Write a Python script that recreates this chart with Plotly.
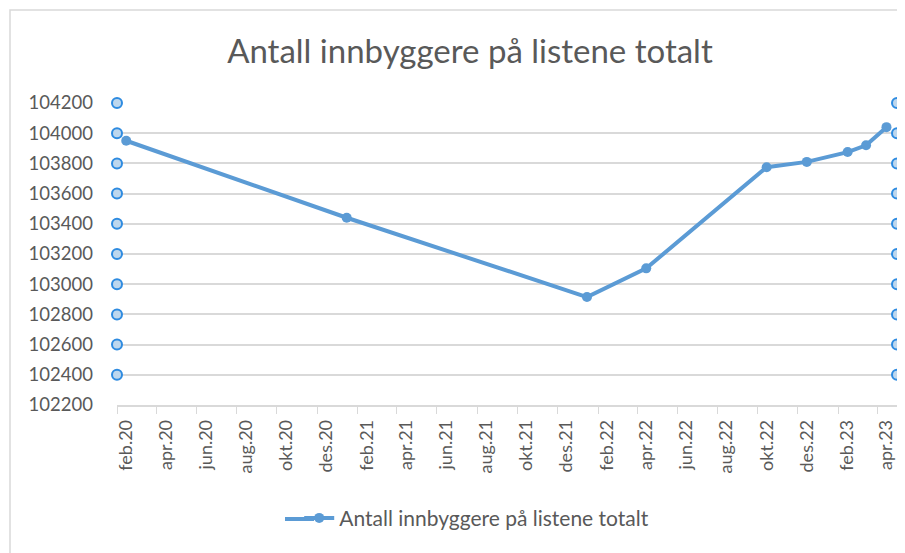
import plotly.graph_objects as go
import pandas as pd

# Data
months = ["2020-02", "2021-01", "2022-01", "2022-04", "2022-10",
          "2022-12", "2023-02", "2023-03", "2023-04"]
innbyggere = [103950, 103440, 102915, 103105, 103775,
              103810, 103875, 103920, 104040]

tick_months = ["2020-02", "2020-04", "2020-06", "2020-08", "2020-10", "2020-12",
               "2021-02", "2021-04", "2021-06", "2021-08", "2021-10", "2021-12",
               "2022-02", "2022-04", "2022-06", "2022-08", "2022-10", "2022-12",
               "2023-02", "2023-04"]
tick_labels = ["feb.20", "apr.20", "jun.20", "aug.20", "okt.20", "des.20",
               "feb.21", "apr.21", "jun.21", "aug.21", "okt.21", "des.21",
               "feb.22", "apr.22", "jun.22", "aug.22", "okt.22", "des.22",
               "feb.23", "apr.23"]

# Gridline selection handles visible in the picture
handle_values = [102400, 102600, 102800, 103000, 103200, 103400,
                 103600, 103800, 104000, 104200]

title_text = "Antall innbyggere på listene totalt"
series_name = "Antall innbyggere på listene totalt"

x_start = "2020-02-01"
x_end = "2023-05-01"

def mid(m):
    return (pd.Timestamp(m + "-01") + pd.Timedelta(days=14)).strftime("%Y-%m-%d")

x_data = [mid(m) for m in months]
tick_vals = [mid(m) for m in tick_months]

FONT = "Lato"
GREY = "#595959"
BLUE = "#5B9BD5"

fig = go.Figure()

fig.add_trace(go.Scatter(
    x=x_data, y=innbyggere, mode="lines+markers", name=series_name,
    line=dict(color=BLUE, width=4),
    marker=dict(color=BLUE, size=10),
    cliponaxis=False,
))

for xe in (x_start, x_end):
    fig.add_trace(go.Scatter(
        x=[xe] * len(handle_values), y=handle_values, mode="markers",
        showlegend=False, hoverinfo="skip", cliponaxis=False,
        marker=dict(size=10, color="#BDD7EE", line=dict(color="#2E8BE0", width=2)),
    ))

PL, PW, PT, PH = 109, 780, 95, 302  # plot area in figure pixels

def px_x(p):
    return (p - PL) / PW

def px_y(p):
    return (PT + PH - p) / PH

fig.update_layout(
    width=897, height=545,
    margin=dict(l=PL, r=8, t=PT, b=148),
    paper_bgcolor="white", plot_bgcolor="white",
    font=dict(family=FONT, color=GREY, size=18),
    title=dict(text=title_text, x=0.515, xanchor="center", y=0.921, yanchor="middle",
               font=dict(family=FONT, size=33, color=GREY)),
    showlegend=True,
    legend=dict(orientation="h", x=0.2336, xanchor="left",
                y=-0.375, yanchor="middle", bgcolor="rgba(0,0,0,0)",
                font=dict(family=FONT, size=21, color=GREY)),
    shapes=[
        dict(type="rect", xref="paper", yref="paper",
             x0=px_x(2), x1=px_x(940), y0=px_y(600), y1=px_y(2),
             line=dict(color="#D9D9D9", width=1.5), layer="below"),
        dict(type="line", xref="paper", yref="paper",
             x0=px_x(277), x1=px_x(306), y0=px_y(511), y1=px_y(511),
             line=dict(color=BLUE, width=4)),
    ],
)

fig.update_xaxes(
    type="date", range=[x_start, x_end],
    tickvals=tick_vals, ticktext=tick_labels, tickangle=-90,
    ticks="", showgrid=False, zeroline=False,
    showline=True, linecolor="#D9D9D9", linewidth=1.5,
    ticklabelstandoff=6,
    tickfont=dict(family=FONT, size=18, color=GREY),
    minor=dict(ticks="outside", dtick="M2", tick0=x_start, ticklen=7,
               tickcolor="#D9D9D9", showgrid=False),
)
fig.update_yaxes(
    range=[102200, 104200], dtick=200, tick0=102200,
    showgrid=True, gridcolor="#D9D9D9", gridwidth=1.5,
    zeroline=False, showline=False, ticks="",
    tickformat="d", ticklabelstandoff=23,
    tickfont=dict(family=FONT, size=18.5, color=GREY),
)

fig.write_html("out.html")
